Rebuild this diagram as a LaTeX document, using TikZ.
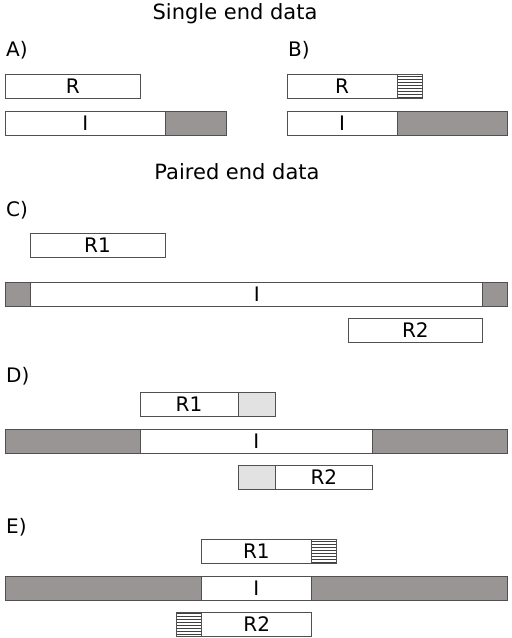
\documentclass[tikz,border=0pt]{standalone}
\usepackage{fontspec}
\setmainfont{DejaVu Sans}
\usetikzlibrary{positioning,patterns}
\definecolor{gapgray}{RGB}{152,149,148}
\definecolor{softgray}{RGB}{226,226,226}
\definecolor{edgegray}{RGB}{80,80,80}

\begin{document}
\begin{tikzpicture}[x=1pt, y=-1pt,
  seg/.style={draw=edgegray, line width=0.8pt, minimum height=24.5pt, inner sep=0pt,
    outer sep=0pt, anchor=north west, font=\fontsize{20}{20}\selectfont},
  gap/.style={seg, fill=gapgray},
  softclip/.style={seg, fill=softgray},
  adapter/.style={seg, pattern=horizontal lines, pattern color=black!75},
  heading/.style={font=\fontsize{21}{21}\selectfont},
  tag/.style={anchor=west, inner sep=0pt, font=\fontsize{20}{20}\selectfont}]

\useasboundingbox (0,0) rectangle (512,638);

% single end data
\node[heading] (single) at (235,14) {Single end data};
\node[tag] (tagA) at (6,50) {A)};
\node[tag] (tagB) at (288,50) {B)};

\node[seg, minimum width=134.3pt] (rA) at (5.7,74) {R};
\node[seg, minimum width=159.3pt] (iA) at (5.7,111) {I};
\node[gap, minimum width=61.7pt, right=0pt of iA] (gA) {};

\node[seg, minimum width=110pt] (rB) at (287,74) {R};
\node[adapter, minimum width=25pt, right=0pt of rB] (aB) {};
\node[seg, minimum width=110pt] (iB) at (287,111) {I};
\node[gap, minimum width=110pt, right=0pt of iB] (gB) {};

% paired end data
\node[heading] (paired) at (237,172) {Paired end data};
\node[tag] (tagC) at (6,210) {C)};

\node[seg, minimum width=135pt] (r1C) at (30,233) {R1};
\node[gap, minimum width=25pt] (glC) at (5.7,282) {};
\node[seg, minimum width=452pt, right=0pt of glC] (iC) {I};
\node[gap, minimum width=24.3pt, right=0pt of iC] (grC) {};
\node[seg, minimum width=134.7pt] (r2C) at (348,318) {R2};

\node[tag] (tagD) at (6,376) {D)};
\node[seg, minimum width=98pt] (r1D) at (140,392) {R1};
\node[softclip, minimum width=37pt, right=0pt of r1D] (s1D) {};
\node[gap, minimum width=134.3pt] (glD) at (5.7,429) {};
\node[seg, minimum width=232.7pt, right=0pt of glD] (iD) {I};
\node[gap, minimum width=134.3pt, right=0pt of iD] (grD) {};
\node[softclip, minimum width=37pt] (s2D) at (238,465) {};
\node[seg, minimum width=97.7pt, right=0pt of s2D] (r2D) {R2};

\node[tag] (tagE) at (6,527) {E)};
\node[seg, minimum width=110.7pt] (r1E) at (201,539) {R1};
\node[adapter, minimum width=24.3pt, right=0pt of r1E] (a1E) {};
\node[gap, minimum width=195.3pt] (glE) at (5.7,576) {};
\node[seg, minimum width=110.7pt, right=0pt of glE] (iE) {I};
\node[gap, minimum width=195.3pt, right=0pt of iE] (grE) {};
\node[adapter, minimum width=25pt] (a2E) at (176.7,612) {};
\node[seg, minimum width=110pt, right=0pt of a2E] (r2E) {R2};

\end{tikzpicture}
\end{document}
